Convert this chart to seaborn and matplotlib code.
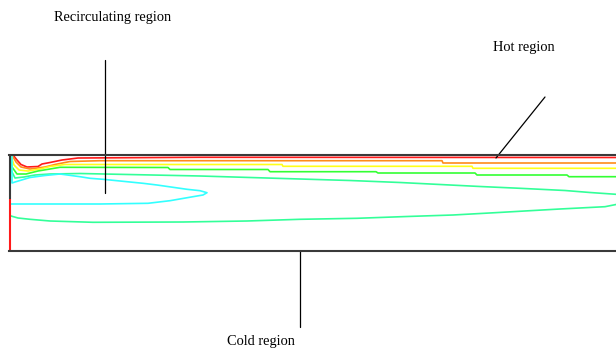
import numpy as np
import pandas as pd
import matplotlib
matplotlib.use("Agg")
import matplotlib.pyplot as plt
import seaborn as sns

# Contour lines of temperature (x = axial position, y = height above the bottom wall, px units)
red_x = [4, 8, 12, 18, 29, 33, 41, 53, 69, 191, 607]
red_y = [96, 91, 86.5, 84, 84.5, 87, 88.5, 91, 93, 93.7, 93.5]

orange_x = [3, 7, 12, 21, 36, 46, 61, 91, 433, 434, 607]
orange_y = [96, 89, 84, 82, 84, 86.5, 89.5, 90.3, 90.3, 88, 88]

yellow_x = [2, 5, 10, 19, 31, 41, 56, 273, 274, 463, 464, 607]
yellow_y = [95, 86, 81, 80, 82, 84.5, 86.5, 86.5, 84.7, 84.7, 82.7, 82.7]

green_x = [1, 3, 8, 17, 29, 41, 51, 159, 161, 259, 261, 367, 369, 466, 468, 558, 560, 607]
green_y = [94, 84, 77, 77, 80, 82, 83.7, 83.5, 81.5, 81.5, 79.3, 79.3, 78, 78, 76, 76, 74.3, 74.3]

spring_up_x = [1, 2, 6, 15, 26, 41, 71, 191, 241, 291, 341, 391, 431, 471, 511, 556, 581, 607]
spring_up_y = [93, 81, 73, 74, 76, 77, 77.5, 75, 73.5, 72, 70.5, 68.5, 66.5, 64.5, 62.7, 60.5, 58.5, 56.7]

cyan_x = [3, 3, 6, 11, 21, 36, 51, 71, 81, 94, 118, 134, 148, 164, 178, 191, 198, 194, 184, 161, 139, 91, 0]
cyan_y = [95, 68, 69, 70.5, 73.5, 75.5, 77, 74.3, 72.7, 71.7, 69.3, 67.7, 66, 63.7, 61.7, 60.3, 58.3, 56, 54.3, 50.3, 47.7, 47, 47]

spring_low_x = [0, 2, 9, 21, 41, 84, 174, 238, 291, 348, 398, 444, 486, 521, 551, 596, 607]
spring_low_y = [37, 35, 33, 31.7, 30, 28.7, 29, 30, 31.7, 32.7, 34.5, 36, 38.3, 40.3, 42, 44.3, 46.5]

contours = {
    "red": (red_x, red_y),
    "orange": (orange_x, orange_y),
    "yellow": (yellow_x, yellow_y),
    "green": (green_x, green_y),
    "spring_up": (spring_up_x, spring_up_y),
    "cyan": (cyan_x, cyan_y),
    "spring_low": (spring_low_x, spring_low_y),
}
palette = {
    "red": "#ff1a1a",
    "orange": "#ff8c1a",
    "yellow": "#ffff1a",
    "green": "#33ff33",
    "spring_up": "#33ff99",
    "cyan": "#33ffff",
    "spring_low": "#33ff99",
}

labels = ["Recirculating region", "Hot region", "Cold region"]

rows = []
for name, (xs, ys) in contours.items():
    for i, (x, y) in enumerate(zip(xs, ys)):
        rows.append({"contour": name, "order": i, "x": x, "y": y})
df = pd.DataFrame(rows)

sns.set_style("white")
plt.rcParams["font.family"] = ["Liberation Serif", "DejaVu Serif"]

W, H = 616, 353
fig = plt.figure(figsize=(W / 100, H / 100), dpi=100)
ax = fig.add_axes([9 / W, 102 / H, 620 / W, 96 / H])
ax.set_xlim(0, 620)
ax.set_ylim(0, 96)

sns.lineplot(data=df, x="x", y="y", hue="contour", palette=palette,
             units="contour", estimator=None, sort=False, legend=False,
             linewidth=1.2, ax=ax)

for s in ["top", "bottom"]:
    ax.spines[s].set_color("#3a3a3a")
    ax.spines[s].set_linewidth(1.5)
ax.spines["right"].set_visible(False)
ax.spines["left"].set_visible(False)
# left wall: hot inlet part dark, cold part red
ax.vlines(0.5, 52, 96, color="#3a3a3a", linewidth=1.5, clip_on=False)
ax.vlines(0.5, 0, 52, color="#ff1a1a", linewidth=1.5, clip_on=False)

ax.set_xticks([])
ax.set_yticks([])
ax.set_xlabel("")
ax.set_ylabel("")

# annotation leader lines
ax.plot([96, 96], [58, 191], color="black", linewidth=0.9, clip_on=False)
ax.plot([536, 487], [154, 93], color="black", linewidth=0.9, clip_on=False)
ax.plot([291, 291], [0, -76], color="black", linewidth=0.9, clip_on=False)

fs = 10.4
fig.text(54 / W, 1 - 17 / H, labels[0], fontsize=fs, va="center", ha="left", color="black")
fig.text(493 / W, 1 - 47 / H, labels[1], fontsize=fs, va="center", ha="left", color="black")
fig.text(227 / W, 1 - 342 / H, labels[2], fontsize=fs, va="center", ha="left", color="black")

fig.savefig("out.png", dpi=100)
